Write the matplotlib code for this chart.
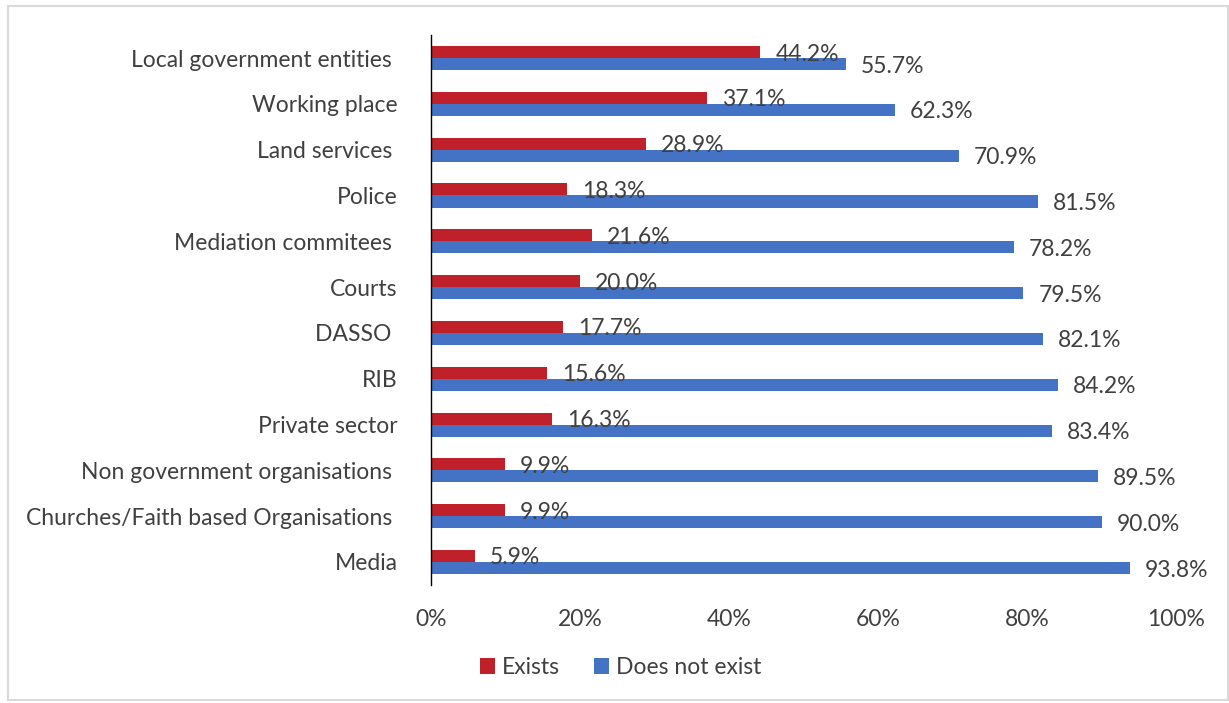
import numpy as np
import matplotlib.pyplot as plt
from matplotlib.patches import Rectangle

categories = ['Local government entities ', 'Working place', 'Land services ', 'Police',
              'Mediation commitees ', 'Courts', 'DASSO ', 'RIB', 'Private sector',
              'Non government organisations ', 'Churches/Faith based Organisations ', 'Media']
exists = [44.2, 37.1, 28.9, 18.3, 21.6, 20.0, 17.7, 15.6, 16.3, 9.9, 9.9, 5.9]
not_exist = [55.7, 62.3, 70.9, 81.5, 78.2, 79.5, 82.1, 84.2, 83.4, 89.5, 90.0, 93.8]
x_ticks = [0, 20, 40, 60, 80, 100]

red = '#C0202A'
blue = '#4472C4'
txt = '#404040'

plt.rcParams['font.family'] = ['Lato', 'DejaVu Sans']
plt.rcParams['font.weight'] = 'normal'
fs = 16.5

fig = plt.figure(figsize=(12.29, 7.03), dpi=100)
ax = fig.add_axes([0.3507, 0.168, 0.9569 - 0.3507, 0.950 - 0.168])

y = np.arange(len(categories))
h = 0.2625
b1 = ax.barh(y - h / 2, exists, height=h, color=red, label='Exists')
b2 = ax.barh(y + h / 2, not_exist, height=h, color=blue, label='Does not exist')

for bars, vals in ((b1, exists), (b2, not_exist)):
    for bar, v in zip(bars, vals):
        ax.annotate(f'{v:.1f}%', (v, bar.get_y() + bar.get_height() / 2),
                    xytext=(15, 0), textcoords='offset pixels',
                    va='center_baseline', ha='left', fontsize=fs, color=txt)

ax.set_xlim(0, 100)
ax.set_ylim(len(categories) - 0.5, -0.5)
ax.set_xticks(x_ticks)
ax.set_xticklabels([f'{t}%' for t in x_ticks])
ax.set_yticks(y)
ax.set_yticklabels(categories, va='center_baseline')
ax.tick_params(axis='both', length=0, labelsize=fs, colors=txt)
ax.tick_params(axis='y', pad=24)
ax.tick_params(axis='x', pad=17)
for s in ('top', 'right', 'bottom'):
    ax.spines[s].set_visible(False)
ax.spines['left'].set_color('black')
ax.spines['left'].set_linewidth(1)

fig.legend(handles=[b1, b2], loc='center', bbox_to_anchor=(0.505, 0.051), ncol=2,
           frameon=False, fontsize=fs, labelcolor=txt, handlelength=0.65,
           handleheight=0.7, handletextpad=0.3, columnspacing=1.5)

fig.patches.append(Rectangle((8 / 1229, 3 / 703), 1220 / 1229, 694 / 703,
                             transform=fig.transFigure, fill=False,
                             edgecolor='#D9D9D9', linewidth=1.5))

fig.savefig('out.png', dpi=100)
